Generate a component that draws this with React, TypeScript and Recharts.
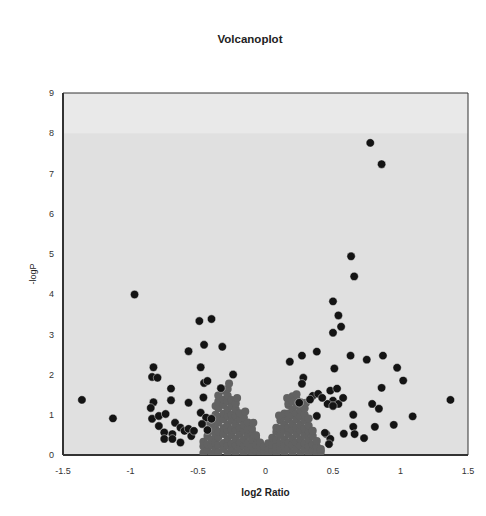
import { CartesianGrid, Label, ReferenceArea, Scatter, ScatterChart, XAxis, YAxis } from 'recharts';

// significant genes (black)
const sigLeft: [number, number][] = [
  [-1.36, 1.37], [-1.13, 0.91], [-0.97, 3.99], [-0.49, 3.33], [-0.40, 3.38], [-0.455, 2.74],
  [-0.32, 2.69], [-0.57, 2.58], [-0.48, 2.18], [-0.24, 2.0], [-0.83, 2.18], [-0.84, 1.94],
  [-0.80, 1.92], [-0.70, 1.65], [-0.455, 1.79], [-0.43, 1.84], [-0.70, 1.36], [-0.83, 1.31],
  [-0.57, 1.30], [-0.46, 1.43], [-0.85, 1.17], [-0.84, 0.90], [-0.79, 0.97], [-0.74, 1.02],
  [-0.79, 0.72], [-0.75, 0.56], [-0.75, 0.40], [-0.69, 0.52], [-0.67, 0.80], [-0.63, 0.68],
  [-0.60, 0.60], [-0.57, 0.65], [-0.55, 0.47], [-0.63, 0.31], [-0.69, 0.40], [-0.48, 1.05],
  [-0.44, 0.93], [-0.40, 0.90], [-0.47, 0.77], [-0.43, 0.62], [-0.33, 1.66], [-0.53, 0.60],
];
const sigRight: [number, number][] = [
  [0.776, 7.76], [0.86, 7.23], [0.634, 4.94], [0.657, 4.44], [0.50, 3.82], [0.54, 3.47],
  [0.56, 3.19], [0.50, 3.04], [0.38, 2.57], [0.27, 2.47], [0.18, 2.32], [0.63, 2.47],
  [0.75, 2.37], [0.87, 2.47], [0.975, 2.17], [1.02, 1.85], [0.51, 2.15], [0.28, 1.92],
  [0.27, 1.77], [0.86, 1.67], [1.37, 1.37], [1.09, 0.96], [0.95, 0.75], [0.81, 0.70],
  [0.79, 1.27], [0.84, 1.15], [0.65, 1.0], [0.65, 0.70], [0.66, 0.52], [0.58, 0.53],
  [0.73, 0.42], [0.45, 0.52], [0.48, 0.40], [0.47, 0.27], [0.35, 1.47], [0.39, 1.52],
  [0.33, 1.38], [0.48, 1.60], [0.53, 1.65], [0.50, 1.35], [0.54, 1.27], [0.575, 1.42],
  [0.46, 1.27], [0.38, 0.97], [0.44, 0.55], [0.42, 1.42], [0.50, 1.22], [0.25, 1.3],
];

// non-significant genes (grey), listed per column: x, then the -logP values
const grayLeft: [number, number[]][] = [
  [-0.46, [0.05, 0.22, 0.33]],
  [-0.43, [0.12, 0.27, 0.47]],
  [-0.40, [0.04, 0.24, 0.38, 0.6, 0.74]],
  [-0.37, [0.13, 0.3, 0.5, 0.64, 0.86, 1.0, 1.22]],
  [-0.35, [0.06, 0.25, 0.44, 0.58, 0.8, 0.95, 1.16, 1.33, 1.48]],
  [-0.31, [0.15, 0.3, 0.52, 0.67, 0.88, 1.03, 1.24, 1.38, 1.6]],
  [-0.28, [0.04, 0.24, 0.4, 0.6, 0.76, 0.97, 1.12, 1.33, 1.47, 1.64]],
  [-0.25, [0.13, 0.28, 0.5, 0.64, 0.86, 1.0, 1.22, 1.37]],
  [-0.22, [0.05, 0.25, 0.4, 0.62, 0.77, 0.97, 1.13, 1.28]],
  [-0.19, [0.15, 0.31, 0.52, 0.67, 0.88, 1.04]],
  [-0.16, [0.04, 0.23, 0.39, 0.6, 0.75, 0.93]],
  [-0.13, [0.13, 0.29, 0.5, 0.64, 0.81]],
  [-0.10, [0.04, 0.21, 0.37, 0.57, 0.65]],
  [-0.07, [0.11, 0.25, 0.43, 0.49]],
  [-0.04, [0.03, 0.19, 0.31]],
  [-0.01, [0.08, 0.21]],
];
const grayRight: [number, number[]][] = [
  [0.02, [0.03, 0.17, 0.29]],
  [0.05, [0.11, 0.25, 0.43]],
  [0.08, [0.04, 0.21, 0.37, 0.57, 0.68]],
  [0.11, [0.13, 0.29, 0.5, 0.65, 0.86]],
  [0.14, [0.05, 0.23, 0.39, 0.6, 0.75, 0.95, 1.03]],
  [0.17, [0.15, 0.31, 0.52, 0.67, 0.88, 1.03, 1.24, 1.29]],
  [0.20, [0.05, 0.25, 0.41, 0.62, 0.77, 0.98, 1.13, 1.34, 1.46]],
  [0.23, [0.15, 0.31, 0.52, 0.67, 0.88, 1.03, 1.23, 1.38, 1.51]],
  [0.26, [0.04, 0.23, 0.39, 0.6, 0.75, 0.95, 1.11, 1.31]],
  [0.29, [0.13, 0.29, 0.5, 0.65, 0.86, 1.0, 1.16]],
  [0.32, [0.04, 0.21, 0.37, 0.57, 0.73, 0.91]],
  [0.35, [0.11, 0.27, 0.47, 0.6]],
  [0.38, [0.04, 0.21, 0.35]],
  [0.41, [0.08, 0.15]],
];
const grayStray: [number, number][] = [
  [-0.27, 1.78], [-0.21, 1.42], [-0.15, 1.08], [-0.09, 0.8], [0.1, 0.98], [0.16, 1.42], [0.3, 1.3], [-0.42, 0.82],
];

const xTicks = [-1.5, -1, -0.5, 0, 0.5, 1, 1.5];
const yTicks = [0, 1, 2, 3, 4, 5, 6, 7, 8, 9];

const sigData = [...sigLeft, ...sigRight].map(([x, y]) => ({ x, y }));
const grayData = [
  ...[...grayLeft, ...grayRight].flatMap(([x, ys]) => ys.map((y) => ({ x, y }))),
  ...grayStray.map(([x, y]) => ({ x, y })),
];

const blackDot = (p: any) => (
  <circle cx={p.cx} cy={p.cy} r={4.2} fill="#141414" stroke="#f4f4f4" strokeOpacity={0.45} strokeWidth={1} />
);
const grayDot = (p: any) => <circle cx={p.cx} cy={p.cy} r={4} fill="#626262" />;

export default function App() {
  return (
    <div style={{ position: 'absolute', left: 0, top: 0, width: 486, height: 516, background: '#fff', fontFamily: 'Arial, "Liberation Sans", sans-serif' }}>
      <div style={{ position: 'absolute', top: 33, left: 150, width: 200, textAlign: 'center', fontSize: 11.5, fontWeight: 'bold', color: '#222' }}>
        Volcanoplot
      </div>
      <ScatterChart width={486} height={516} margin={{ top: 93, right: 18, bottom: 31, left: 43 }}>
        <CartesianGrid horizontal={false} vertical={false} fill="#e0e0e0" />
        <ReferenceArea x1={-1.5} x2={1.5} y1={8} y2={9} fill="#e9e9e9" fillOpacity={1} stroke="none" />
        <ReferenceArea x1={-1.5} x2={1.5} y1={0} y2={9} fill="none" stroke="#333" strokeWidth={1} />
        <XAxis
          type="number"
          dataKey="x"
          domain={[-1.5, 1.5]}
          ticks={xTicks}
          height={30}
          tickLine={false}
          tickSize={6}
          tickMargin={7}
          tick={{ fontSize: 9, fill: '#333' }}
          axisLine={{ stroke: '#333', strokeWidth: 2 }}
          allowDataOverflow
        >
          <Label value="log2 Ratio" position="center" dy={22} style={{ fontSize: 10, fontWeight: 'bold', fill: '#222' }} />
        </XAxis>
        <YAxis
          type="number"
          dataKey="y"
          domain={[0, 9]}
          ticks={yTicks}
          width={20}
          tickLine={false}
          tickSize={6}
          tickMargin={3}
          tick={{ fontSize: 9, fill: '#333' }}
          axisLine={{ stroke: '#333', strokeWidth: 2 }}
          allowDataOverflow
        >
          <Label value="-logP" angle={-90} position="center" dx={-20} style={{ fontSize: 9, fill: '#222' }} />
        </YAxis>
        <Scatter data={grayData} shape={grayDot} isAnimationActive={false} />
        <Scatter data={sigData} shape={blackDot} isAnimationActive={false} />
      </ScatterChart>
    </div>
  );
}
